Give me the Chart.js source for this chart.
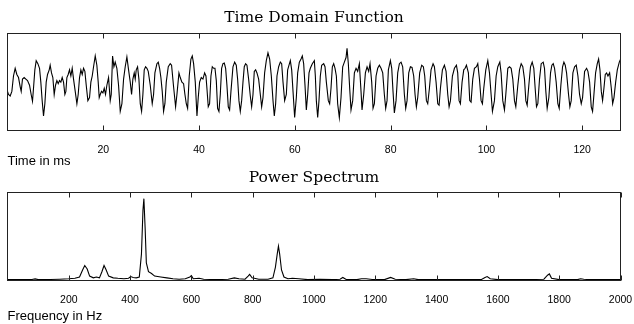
<!DOCTYPE html>
<html>
<head>
<meta charset="utf-8">
<script src="https://cdn.jsdelivr.net/npm/chart.js@4.4.1/dist/chart.umd.min.js"></script>
<style>
  html, body { margin: 0; padding: 0; background: #fff; }
  body { width: 634px; height: 324px; position: relative; overflow: hidden; }
  canvas { position: absolute; left: 0; }
  #timeChart { top: 0; }
  #specChart { top: 160px; }
</style>
</head>
<body>
<canvas id="timeChart" width="634" height="170"></canvas>
<canvas id="specChart" width="634" height="164"></canvas>
<script>
// Time domain signal (time in ms, amplitude in arbitrary units)
const timeMs = [
  0.00,0.21,0.56,0.91,1.25,1.60,1.95,2.30,2.65,2.86,
  3.13,3.48,3.83,4.18,4.60,4.94,5.22,5.43,5.71,5.99,
  6.34,6.69,6.96,7.24,7.52,7.80,8.08,8.36,8.71,8.91,
  9.19,9.47,9.75,10.03,10.31,10.59,10.86,11.14,11.42,11.70,
  11.98,12.19,12.40,12.67,12.95,13.23,13.51,13.79,14.14,14.49,
  14.76,15.04,15.32,15.60,15.88,16.16,16.44,16.78,17.13,17.41,
  17.69,17.97,18.32,18.66,18.94,19.15,19.36,19.64,19.92,20.20,
  20.47,20.75,21.10,21.45,21.66,21.94,22.22,22.49,22.84,23.19,
  23.54,23.89,24.24,24.58,24.93,25.28,25.63,25.91,26.18,26.46,
  26.67,26.88,27.16,27.44,27.72,28.00,28.27,28.55,28.83,29.11,
  29.39,29.81,30.22,30.50,30.78,31.20,31.48,31.76,32.03,32.31,
  32.59,32.87,33.15,33.57,33.98,34.26,34.68,35.10,35.38,35.80,
  36.07,36.42,36.77,37.05,37.33,37.61,37.95,38.30,38.58,38.86,
  39.21,39.56,39.83,40.11,40.46,40.81,41.16,41.44,41.64,41.92,
  42.20,42.48,42.76,43.04,43.32,43.60,43.87,44.15,44.43,44.71,
  44.99,45.27,45.55,45.82,46.10,46.38,46.66,47.08,47.43,47.77,
  48.05,48.33,48.61,48.89,49.17,49.44,49.72,50.00,50.35,50.70,
  50.98,51.26,51.53,51.81,52.09,52.44,52.79,53.07,53.35,53.69,
  54.04,54.39,54.74,55.09,55.44,55.71,55.99,56.27,56.62,56.97,
  57.25,57.53,57.87,58.22,58.50,58.78,59.06,59.34,59.62,59.96,
  60.31,60.59,60.94,61.29,61.56,61.84,62.12,62.40,62.68,62.96,
  63.23,63.65,
  64.07,64.28,64.49,64.77,65.04,65.32,65.60,66.02,66.30,66.58,
  66.99,67.27,67.55,67.83,68.11,68.39,68.67,68.94,69.29,69.64,
  69.99,70.34,70.69,70.90,71.17,71.45,71.73,72.08,72.43,72.78,
  73.12,73.47,73.82,74.03,74.38,74.73,75.08,75.42,75.70,76.05,
  76.33,76.61,76.96,77.30,77.65,78.00,78.35,78.69,78.97,79.25,
  79.53,79.95,80.23,80.50,80.78,81.13,81.48,81.83,82.18,82.52,
  82.87,83.15,83.43,83.78,84.13,84.47,84.82,85.10,85.38,85.66,
  86.07,86.49,86.84,87.12,87.47,87.75,88.10,88.44,88.86,89.14,
  89.49,89.84,90.12,90.40,90.81,91.23,91.58,91.93,92.21,92.49,
  92.90,93.32,93.74,94.01,94.29,94.57,94.92,95.27,95.55,95.83,
  96.24,96.52,96.80,97.15,97.50,97.92,98.20,98.55,98.89,99.17,
  99.45,99.87,100.29,100.64,100.98,101.26,101.68,102.03,102.38,102.80,
  103.07,103.42,103.77,104.05,104.47,104.82,105.17,105.51,105.86,106.14,
  106.56,106.91,107.26,107.60,107.95,108.23,108.51,108.86,109.21,109.56,
  109.90,110.18,110.46,110.74,111.09,111.44,111.86,112.13,112.41,112.69,
  113.04,113.39,113.67,113.95,114.23,114.57,114.92,115.20,115.55,115.90,
  116.18,116.46,116.74,117.15,117.43,117.71,118.06,118.41,118.76,119.11,
  119.45,119.80,120.08,120.50,120.92,121.20,121.55,121.89,122.17,122.45,
  122.80,123.15,123.43,123.71,123.99,124.26,124.54,124.82,125.10,125.38,
  125.73,126.08,126.36,126.64,126.99,127.33,127.75,128.03
];
const signal = [
  -0.30,-0.40,-0.45,-0.30,0.20,0.45,0.25,0.15,-0.15,-0.30,
  0.10,0.15,0.10,0.05,-0.10,-0.40,-0.62,-0.20,0.40,0.70,
  0.60,0.45,0.00,-0.60,-1.10,-0.70,0.00,0.25,0.40,0.55,
  0.30,0.15,-0.40,-0.10,0.05,-0.05,0.05,0.00,0.15,0.00,
  -0.40,-0.30,0.15,0.25,0.40,0.20,0.45,0.10,-0.30,-0.70,
  -0.40,0.15,0.40,0.25,0.45,0.35,-0.10,-0.60,-0.50,0.00,
  0.20,0.50,0.85,0.55,0.00,-0.50,-0.40,-0.30,-0.35,-0.20,
  -0.40,-0.10,0.15,-0.60,-0.40,0.85,0.50,0.65,0.45,-0.10,
  -0.95,-0.70,0.10,0.50,0.82,0.40,0.00,-0.40,0.10,0.30,
  0.10,0.40,0.50,0.10,-0.70,-0.95,-0.40,0.40,0.50,0.45,
  0.35,-0.10,-0.70,-0.40,0.30,0.60,0.65,0.45,0.15,-0.30,
  -0.95,-0.70,0.00,0.50,0.60,0.55,-0.15,-0.80,-0.40,0.30,
  0.15,0.00,-0.05,-0.40,-0.70,-0.85,0.20,0.75,0.85,0.60,
  0.00,-1.10,-0.50,0.00,0.15,0.10,0.30,0.20,-0.20,-0.80,
  -0.70,0.20,0.50,0.45,0.45,0.05,-0.85,-0.95,-0.40,0.45,
  0.60,0.62,0.45,-0.10,-0.80,-0.90,-0.30,0.50,0.65,0.55,
  0.10,-0.60,-0.95,-0.60,0.00,0.50,0.60,0.55,0.10,-0.45,
  -0.80,-0.40,0.35,0.40,0.30,0.10,-0.40,-0.80,-0.50,0.30,
  0.70,0.95,0.75,0.20,-0.60,-1.10,-0.70,0.20,0.50,0.65,
  0.60,0.00,-0.60,-0.40,0.40,0.55,0.70,0.40,-0.30,-1.15,
  -0.50,0.30,0.65,0.75,0.85,0.60,-0.10,-0.90,-0.40,0.30,
  0.45,0.60,
  0.70,0.20,-0.60,-1.15,-0.60,0.20,0.55,0.60,0.50,0.00,
  -0.60,-0.70,-0.20,0.50,0.60,0.45,0.20,-0.70,-1.15,-0.50,
  0.50,0.65,0.80,1.10,0.60,-0.20,-0.90,-0.60,0.30,0.45,
  0.35,0.60,-0.30,-0.90,-0.40,0.30,0.50,0.35,0.60,0.00,
  -0.85,-0.70,0.20,0.45,0.55,0.45,0.30,-0.40,-0.85,-0.60,
  0.40,0.70,0.45,-0.30,-1.00,-0.60,0.30,0.60,0.65,0.50,
  -0.40,-0.85,-0.60,0.30,0.50,0.48,0.20,-0.40,-0.80,-0.50,
  0.30,0.55,0.50,0.20,-0.60,-0.70,-0.20,0.40,0.60,0.50,
  0.00,-0.70,-0.75,-0.20,0.40,0.55,0.35,-0.40,-0.80,-0.60,
  0.20,0.45,0.55,0.30,-0.60,-0.70,0.00,0.40,0.45,0.55,
  0.30,-0.60,-0.65,0.10,0.45,0.50,0.60,0.10,-0.60,-0.70,
  -0.20,0.40,0.70,0.30,-0.40,-0.95,-0.60,0.20,0.50,0.65,
  0.30,-0.60,-0.90,-0.40,0.45,0.50,0.45,0.10,-0.60,-0.80,
  -0.10,0.40,0.60,0.50,0.10,-0.60,-0.75,-0.10,0.50,0.65,
  0.45,-0.20,-0.80,-0.70,0.10,0.60,0.65,0.45,-0.30,-0.85,
  -0.50,0.30,0.55,0.60,0.45,0.00,-0.70,-0.85,-0.10,0.50,
  0.65,0.55,0.30,-0.40,-0.80,-0.60,0.30,0.50,0.55,0.20,
  -0.40,-0.70,-0.50,0.35,0.45,0.35,0.00,-0.80,-0.95,-0.40,
  0.30,0.60,0.75,0.40,-0.30,-0.60,-0.20,0.25,0.30,0.20,
  0.30,-0.20,-0.70,-0.50,0.00,0.40,0.65,0.75
];
const timeTicks = [20, 40, 60, 80, 100, 120];

// Power spectrum (frequency in Hz, relative power)
const freqHz = [
  0, 40, 80, 90, 100, 140, 170, 200, 220, 235,
  245, 252, 260, 268, 280, 290, 300, 308, 315, 322,
  330, 345, 360, 380, 395, 402, 410, 420, 430, 437,
  442, 445, 449, 453, 460, 470, 480, 500, 520, 540,
  560, 580, 595, 600, 606, 625, 640, 680, 720, 740,
  755, 775, 785, 790, 798, 820, 850, 866, 874, 880,
  884, 888, 894, 902, 915, 930, 950, 980, 1020, 1060,
  1085, 1094, 1105, 1140, 1155, 1170, 1190, 1230, 1250, 1265,
  1300, 1325, 1340, 1400, 1480, 1545, 1558, 1565, 1575, 1600,
  1700, 1750, 1762, 1768, 1775, 1800, 1860, 1870, 1880, 1900,
  2000
];
const power = [
  0.01, 0.01, 0.012, 0.018, 0.01, 0.012, 0.015, 0.02, 0.025, 0.04,
  0.12, 0.17, 0.13, 0.05, 0.03, 0.04, 0.03, 0.10, 0.17, 0.12,
  0.05, 0.03, 0.025, 0.02, 0.025, 0.045, 0.035, 0.03, 0.04, 0.30,
  0.80, 0.93, 0.60, 0.20, 0.10, 0.08, 0.05, 0.04, 0.03, 0.02,
  0.015, 0.02, 0.04, 0.055, 0.02, 0.025, 0.015, 0.01, 0.015, 0.03,
  0.02, 0.015, 0.05, 0.07, 0.03, 0.015, 0.015, 0.03, 0.15, 0.30,
  0.39, 0.30, 0.12, 0.04, 0.02, 0.025, 0.02, 0.01, 0.015, 0.01,
  0.015, 0.035, 0.012, 0.01, 0.02, 0.02, 0.012, 0.01, 0.035, 0.015,
  0.01, 0.02, 0.01, 0.01, 0.01, 0.01, 0.035, 0.045, 0.02, 0.01,
  0.01, 0.015, 0.06, 0.075, 0.025, 0.01, 0.01, 0.02, 0.015, 0.01,
  0.01
];
const freqTicks = [200, 400, 600, 800, 1000, 1200, 1400, 1600, 1800, 2000];

// box around the plot area with inward tick marks top and bottom
const framePlugin = {
    id: 'frame',
    afterDatasetsDraw(chart) {
        const { ctx, chartArea: a, scales } = chart;
        const x = scales.x;
        ctx.save();
        ctx.strokeStyle = '#222';
        ctx.lineWidth = 1;
        ctx.strokeRect(a.left, a.top, a.right - a.left, a.bottom - a.top);
        ctx.beginPath();
        x.ticks.forEach(t => {
            const px = Math.round(x.getPixelForValue(t.value)) + 0.5;
            ctx.moveTo(px, a.bottom);
            ctx.lineTo(px, a.bottom - 5);
            ctx.moveTo(px, a.top);
            ctx.lineTo(px, a.top + 5);
        });
        ctx.stroke();
        ctx.restore();
    }
};

function makePlot(id, cfg) {
    const ctx = document.getElementById(id).getContext('2d');
    return new Chart(ctx, {
        type: 'line',
        data: {
            datasets: [{
                data: cfg.xs.map((v, i) => ({ x: v, y: cfg.ys[i] })),
                borderColor: '#000',
                borderWidth: 1.1,
                pointRadius: 0,
                tension: 0,
                fill: false
            }]
        },
        options: {
            responsive: false,
            animation: false,
            devicePixelRatio: 1,
            layout: { padding: { left: 7.5, right: 13.5, top: 0, bottom: cfg.padBottom } },
            plugins: {
                legend: { display: false },
                tooltip: { enabled: false },
                title: {
                    display: true,
                    text: cfg.title,
                    fullSize: false,
                    color: '#000',
                    font: { family: "'DejaVu Serif', serif", size: 15.5, weight: 'normal', lineHeight: 1.2 },
                    padding: { top: 8.2, bottom: cfg.titleGap }
                }
            },
            scales: {
                x: {
                    type: 'linear',
                    min: cfg.xMin,
                    max: cfg.xMax,
                    afterBuildTicks: (scale) => {
                        scale.ticks = cfg.ticks.map(v => ({ value: v }));
                    },
                    // the end label may hang over the frame, like the original
                    afterFit: (scale) => {
                        scale.paddingLeft = 0;
                        scale.paddingRight = 0;
                    },
                    grid: { display: false },
                    border: { display: false },
                    ticks: {
                        color: '#000',
                        padding: 6.4,
                        maxRotation: 0,
                        autoSkip: false,
                        callback: (v) => String(v),
                        font: { family: "'Liberation Sans', Arial, sans-serif", size: 10.5, lineHeight: 1 }
                    },
                    title: {
                        display: true,
                        text: cfg.xTitle,
                        align: 'start',
                        color: '#000',
                        font: { family: "'Liberation Sans', Arial, sans-serif", size: 13, lineHeight: 1 },
                        padding: { top: cfg.xTitleTop, bottom: 0 }
                    }
                },
                y: {
                    display: false,
                    min: cfg.yMin,
                    max: cfg.yMax
                }
            }
        },
        plugins: [framePlugin]
    });
}

makePlot('timeChart', {
    xs: timeMs, ys: signal, ticks: timeTicks,
    xMin: 0, xMax: 128, yMin: -1.57, yMax: 1.58,
    title: 'Time Domain Function', titleGap: 6.7,
    xTitle: 'Time in ms', xTitleTop: -7.1, padBottom: 2.3
});

makePlot('specChart', {
    xs: freqHz, ys: power, ticks: freqTicks,
    xMin: 0, xMax: 2000, yMin: 0, yMax: 1,
    title: 'Power Spectrum', titleGap: 5.7,
    xTitle: 'Frequency in Hz', xTitleTop: -1.5, padBottom: 0.7
});
</script>
</body>
</html>
